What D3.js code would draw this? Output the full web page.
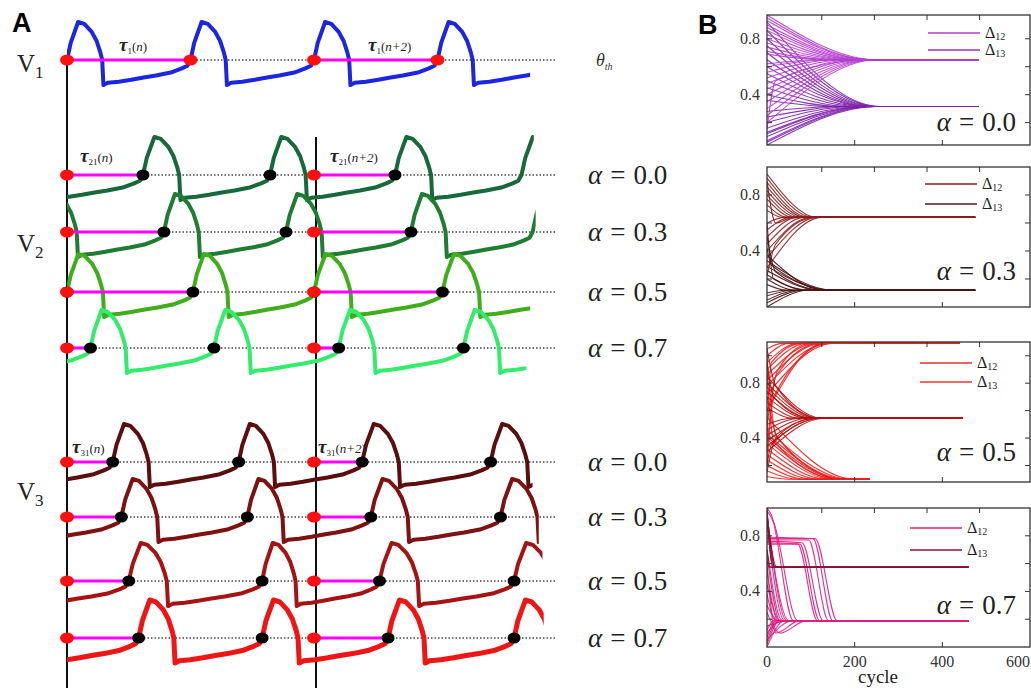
<!DOCTYPE html>
<html>
<head>
<meta charset="utf-8">
<script src="https://cdn.jsdelivr.net/npm/d3@7"></script>
<style>
body { margin: 0; background: #fff; }
svg { display: block; }
text { font-family: "Liberation Serif", "DejaVu Serif", serif; }
</style>
</head>
<body>
<script>
// ---------- panel A data (times in units of one V1 period) ----------
// one spike cycle, phase 0..1, voltage relative to threshold (peak = 1)
const waveTemplate = [[0,0],[0.03,0.45],[0.09,1],[0.14,0.95],[0.2,0.74],[0.24,0.5],[0.27,0.2],
  [0.285,0],[0.295,-0.66],[0.33,-0.6],[0.42,-0.57],[0.52,-0.52],[0.62,-0.46],[0.72,-0.41],[0.84,-0.33],
  [0.93,-0.22],[0.975,-0.15],[1,0]];
const alphaLabels = ["0.0", "0.3", "0.5", "0.7"];
const v1Cross = [0, 1, 2, 3];
const v1End = 3.75;
const v2Cross = [[0.615,1.644,2.656,3.68],[0.785,1.773,2.785,3.77],[0,1.02,2,3.04],[0.19,1.19,2.2,3.21]];
const v2End = [3.78, 3.795, 3.75, 3.72];
const v3Cross = [[0.37,1.39,2.39,3.43],[0.44,1.46,2.46,3.51],[0.5,1.58,2.53,3.62],[0.58,1.58,2.6,3.62]];
const v3End = [3.77, 3.82, 3.85, 3.86];
const refTimes = [0, 2];          // tau(n), tau(n+2)
const dotUntil = 3.66;

// ---------- panel B data: [start, cycle reached]  or  [start, c1, v1, ..., cycle reached] ----------
const p1Final = [0.65, 0.315];
const p1Delta12 = [[0.97,250],[0.95,240],[0.93,235],[0.9,228],[0.88,220],[0.86,212],[0.83,205],[0.8,195],
  [0.77,185],[0.74,170],[0.71,150],[0.6,140],[0.56,160],[0.52,180],[0.48,200],[0.44,215],[0.4,225],
  [0.35,235],[0.3,240],[0.25,245],[0.2,250],[0.62,120],[0.69,130],[0.15,20,0.5,230]];
const p1Delta13 = [[0.04,250],[0.07,240],[0.1,235],[0.13,225],[0.16,215],[0.2,200],[0.24,185],[0.28,160],
  [0.36,150],[0.4,175],[0.45,195],[0.5,210],[0.55,220],[0.6,230],[0.65,235],[0.7,240],[0.75,245],
  [0.8,250],[0.86,255],[0.92,258],[0.12,230],[0.06,245]];
const p2Final = [0.64, 0.12];
const p2Delta12 = [[0.95,115],[0.92,105],[0.89,95],[0.86,88],[0.83,80],[0.8,70],[0.77,60],[0.73,48],
  [0.69,35],[0.6,40],[0.55,55],[0.5,70],[0.45,85],[0.4,100],[0.35,115],[0.28,125],[0.22,20,0.45,110],[0.9,20,0.6,60]];
const p2Delta13 = [[0.0,95],[0.03,85],[0.05,75],[0.08,60],[0.1,40],[0.16,45],[0.2,65],[0.23,90],[0.26,120],
  [0.29,145],[0.33,150],[0.37,130],[0.42,10,0.3,150],[0.5,20,0.25,130],[0.6,15,0.2,100]];
const p3Final = [1.09, 0.545, 0.1];
const p3Top = [[0.95,70],[0.9,90],[0.86,110],[0.82,125],[0.78,140],[0.72,150],[1.05,35],[1.0,50],
  [0.3,20,0.85,120],[0.2,15,0.7,140],[0.5,25,0.9,100],[0.6,130],[0.4,10,0.95,80]];
const p3Mid = [[0.85,125],[0.8,118],[0.77,110],[0.74,100],[0.7,90],[0.66,75],[0.62,60],[0.5,55],[0.46,75],
  [0.42,95],[0.38,110],[0.34,120],[0.3,130],[1.05,20,0.78,120],[0.15,20,0.4,110],[0.95,15,0.7,100],[0.2,10,0.35,125]];
const p3Bottom = [[0.46,190],[0.43,180],[0.41,170],[0.39,160],[0.36,150],[0.32,135],[0.28,120],[0.24,105],
  [0.2,90],[0.16,70],[0.12,50],[1.0,20,0.42,180],[0.9,15,0.38,165],[0.7,25,0.4,175],[0.55,200]];
const p4Final = [0.19, 0.575];
const p4Delta12 = [[0.77,95,0.77,140],[0.78,105,0.78,150],[0.79,110,0.78,160],[0.74,70,0.74,115],
  [0.75,75,0.74,120],[0.76,80,0.75,128],[1.0,10,0.95,60],[0.98,15,0.9,70],[0.96,45],[0.92,50],[0.88,40],
  [0.7,35],[0.66,30],[0.55,25],[0.45,30],[0.38,20],[0.3,25],[0.02,30],[0.04,25],[0.07,20],[0.0,40],
  [0.1,35],[0.12,15],[0.15,50],[0.05,60],[0.6,20,0.1,75],[0.25,30,0.1,90]];
const p4Delta13 = [[1.0,12],[0.98,18],[0.95,22],[0.92,15],[0.7,8],[0.62,5]];
const yTickLabels = [0.8, 0.4];
const cycleTicks = [0, 200, 400, 600];

const W = 1031, H = 690;
const svg = d3.select("body").append("svg").attr("width", W).attr("height", H);
const defs = svg.append("defs");

// ================= panel A =================
const t = d3.scaleLinear().domain([0, 1]).range([67, 190.5]);
const ampPx = 38;

function wavePoints(cross) {
  const n = cross.length;
  const cs = [cross[0] - (cross[1] - cross[0]), ...cross, cross[n - 1] + (cross[n - 1] - cross[n - 2])];
  const pts = [];
  for (let k = 0; k < cs.length - 1; k++) {
    const P = cs[k + 1] - cs[k];
    waveTemplate.forEach((d, i) => {
      if (k > 0 && i === 0) return;
      pts.push([cs[k] + d[0] * P, d[1]]);
    });
  }
  return pts;
}

const v2Y = [175, 232, 292, 348], v3Y = [462, 517, 581, 638];
const v2Colors = ["#17683a", "#1f7d33", "#40ae1c", "#34ec6c"];
const v3Colors = ["#5c0d0d", "#7e1111", "#a51313", "#f01515"];
const rows = [{ y: 60, cross: v1Cross, end: v1End, color: "#1c25e0", w: 4, v1: true }];
v2Cross.forEach((c, i) => rows.push({ y: v2Y[i], cross: c, end: v2End[i], color: v2Colors[i], w: 4 }));
v3Cross.forEach((c, i) => rows.push({ y: v3Y[i], cross: c, end: v3End[i], color: v3Colors[i], w: i === 3 ? 5 : 4 }));

// vertical reference lines
svg.append("line").attr("x1", t(0)).attr("x2", t(0)).attr("y1", 60).attr("y2", 688)
  .attr("stroke", "#111").attr("stroke-width", 2);
svg.append("line").attr("x1", t(2) + 2).attr("x2", t(2) + 2).attr("y1", 137).attr("y2", 688)
  .attr("stroke", "#111").attr("stroke-width", 2);

rows.forEach((r, i) => {
  const y = d3.scaleLinear().domain([0, 1]).range([r.y, r.y - ampPx]);
  const g = svg.append("g");
  // threshold
  g.append("line").attr("x1", t(0)).attr("x2", 555).attr("y1", r.y).attr("y2", r.y)
    .attr("stroke", "#444").attr("stroke-width", 1.4).attr("stroke-dasharray", "1.5,2");
  // waveform
  defs.append("clipPath").attr("id", "clip" + i).append("rect")
    .attr("x", t(0)).attr("y", 0).attr("width", t(r.end) - t(0)).attr("height", H);
  const line = d3.line().x(d => t(d[0])).y(d => y(d[1]));
  g.append("path").datum(wavePoints(r.cross)).attr("d", line)
    .attr("clip-path", "url(#clip" + i + ")")
    .attr("fill", "none").attr("stroke", r.color).attr("stroke-width", r.w)
    .attr("stroke-linejoin", "round").attr("stroke-linecap", "round");
  // tau segments
  refTimes.forEach(ref => {
    const next = r.cross.find(c => c > ref + 0.001);
    g.append("line").attr("x1", t(ref)).attr("x2", t(next)).attr("y1", r.y).attr("y2", r.y)
      .attr("stroke", "#ff00ff").attr("stroke-width", 3.2);
  });
  // own crossings
  if (!r.v1) {
    g.selectAll(".bdot").data(r.cross.filter(c => c >= 0 && c < dotUntil)).enter().append("ellipse")
      .attr("cx", d => t(d)).attr("cy", r.y).attr("rx", 6.5).attr("ry", 5.5).attr("fill", "#000");
  }
  const reds = r.v1 ? r.cross : refTimes;
  g.selectAll(".rdot").data(reds).enter().append("ellipse")
    .attr("cx", d => t(d)).attr("cy", r.y).attr("rx", 7).attr("ry", 5.5).attr("fill", "#ff1010");
});

// labels panel A
svg.append("text").attr("x", 12).attr("y", 32).text("A")
  .style("font-family", "Liberation Sans, Arial, sans-serif").attr("font-weight", "bold").attr("font-size", 27);
[["1", 72], ["2", 252], ["3", 500]].forEach(([s, yb]) => {
  const tx = svg.append("text").attr("x", 17).attr("y", yb).attr("font-size", 25).attr("fill", "#222");
  tx.append("tspan").text("V");
  tx.append("tspan").attr("dy", 6).attr("font-size", 17).text(s);
});
function tauLabel(x, yb, sub, arg) {
  const tx = svg.append("text").attr("x", x).attr("y", yb).attr("fill", "#222");
  tx.append("tspan").attr("font-size", 19).attr("font-weight", "bold").attr("font-style", "italic").text("τ");
  tx.append("tspan").attr("font-size", 9).attr("dy", 3).text(sub);
  tx.append("tspan").attr("font-size", 13).attr("dy", -3).text("(");
  tx.append("tspan").attr("font-size", 13).attr("font-style", "italic").text(arg);
  tx.append("tspan").attr("font-size", 13).text(")");
}
tauLabel(119, 51, "1", "n");
tauLabel(368, 51, "1", "n+2");
tauLabel(80, 162, "21", "n");
tauLabel(330, 162, "21", "n+2");
tauLabel(72, 453, "31", "n");
tauLabel(318, 453, "31", "n+2");

const thTx = svg.append("text").attr("x", 596).attr("y", 66).attr("font-size", 18).attr("font-style", "italic").attr("fill", "#333");
thTx.append("tspan").text("θ");
thTx.append("tspan").attr("font-size", 10).attr("dy", 4).text("th");

function alphaText(x, yb, val, size, anchor) {
  const tx = svg.append("text").attr("x", x).attr("y", yb).attr("font-size", size).attr("fill", "#222")
    .attr("text-anchor", anchor || "start");
  tx.append("tspan").attr("font-style", "italic").text("α");
  tx.append("tspan").attr("dx", size * 0.3).text("=");
  tx.append("tspan").attr("dx", size * 0.3).text(val);
}
alphaLabels.forEach((a, i) => alphaText(588, v2Y[i] + 9, a, 27));
alphaLabels.forEach((a, i) => alphaText(588, v3Y[i] + 9, a, 27));

// ================= panel B =================
const cx = d3.scaleLinear().domain([0, 600]).range([767, 1030]);

function trajPoints(tr, final, end) {
  const pts = [[0, tr[0]]];
  for (let i = 1; i < tr.length - 1; i += 2) pts.push([tr[i], tr[i + 1]]);
  pts.push([tr[tr.length - 1], final]);
  pts.push([end, final]);
  return pts;
}

const topTicks = [125, 245, 365, 485];
const panels = [
  { top: 15, bottom: 145, domain: [0.04, 0.97], alpha: "0.0", alphaY: 131, legY: [33, 50],
    legColors: ["#b33dcc", "#9a33c2"], legX: 928,
    groups: [{ data: p1Delta13, final: p1Final[1], end: 482, color: "#7d22aa" },
             { data: p1Delta12, final: p1Final[0], end: 482, color: "#b53ecf" }] },
  { top: 167, bottom: 307, domain: [0, 1.0], alpha: "0.3", alphaY: 280, legY: [184, 204],
    legColors: ["#8b1c1c", "#5a1a1a"], legX: 925,
    groups: [{ data: p2Delta12, final: p2Final[0], end: 475, color: "#8e1d1d" },
             { data: p2Delta13, final: p2Final[1], end: 475, color: "#4d1414" }] },
  { top: 342, bottom: 482, domain: [0.08, 1.1], alpha: "0.5", alphaY: 461, legY: [363, 382],
    legColors: ["#e33030", "#ea3838"], legX: 920,
    groups: [{ data: p3Top, final: p3Final[0], end: 440, color: "#f01c1c" },
             { data: p3Bottom, final: p3Final[2], end: 235, color: "#f01c1c" },
             { data: p3Mid, final: p3Final[1], end: 447, color: "#b31010" }] },
  { top: 508, bottom: 647, domain: [0, 1.0], alpha: "0.7", alphaY: 614, legY: [528, 550],
    legColors: ["#d9207f", "#8e0f3a"], legX: 910,
    groups: [{ data: p4Delta12, final: p4Final[0], end: 460, color: "#dc1f80" },
             { data: p4Delta13, final: p4Final[1], end: 460, color: "#8e0f3a" }] }
];

panels.forEach((p, pi) => {
  const y = d3.scaleLinear().domain(p.domain).range([p.bottom, p.top]);
  const g = svg.append("g");
  defs.append("clipPath").attr("id", "pclip" + pi).append("rect")
    .attr("x", cx(0)).attr("y", p.top).attr("width", cx(600) - cx(0)).attr("height", p.bottom - p.top);
  const line = d3.line().x(d => cx(d[0])).y(d => y(d[1])).curve(d3.curveMonotoneX);
  const lg = g.append("g").attr("clip-path", "url(#pclip" + pi + ")");
  p.groups.forEach(gr => {
    lg.selectAll(null).data(gr.data).enter().append("path")
      .attr("d", d => line(trajPoints(d, gr.final, gr.end)))
      .attr("fill", "none").attr("stroke", gr.color).attr("stroke-width", 1.1).attr("stroke-opacity", 0.9);
  });
  // frame
  g.append("rect").attr("x", cx(0)).attr("y", p.top).attr("width", cx(600) - cx(0)).attr("height", p.bottom - p.top)
    .attr("fill", "none").attr("stroke", "#333").attr("stroke-width", 1.3);
  // ticks
  const yt = [0.2, 0.4, 0.6, 0.8, 1.0].filter(v => v > p.domain[0] && v < p.domain[1]);
  yt.forEach(v => {
    g.append("line").attr("x1", cx(600)).attr("x2", cx(600) - 5).attr("y1", y(v)).attr("y2", y(v)).attr("stroke", "#333");
    g.append("line").attr("x1", cx(0)).attr("x2", cx(0) + 5).attr("y1", y(v)).attr("y2", y(v)).attr("stroke", "#333");
  });
  topTicks.forEach(c => g.append("line").attr("x1", cx(c)).attr("x2", cx(c)).attr("y1", p.top).attr("y2", p.top + 5).attr("stroke", "#333"));
  [200, 400].forEach(c => g.append("line").attr("x1", cx(c)).attr("x2", cx(c)).attr("y1", p.bottom).attr("y2", p.bottom - 5).attr("stroke", "#333"));
  yTickLabels.forEach(v => g.append("text").attr("x", 760).attr("y", y(v) + 5).attr("text-anchor", "end")
    .attr("font-size", 16).attr("fill", "#333").text(v.toFixed(1)));
  // legend
  ["12", "13"].forEach((s, k) => {
    g.append("line").attr("x1", p.legX).attr("x2", p.legX + 52).attr("y1", p.legY[k]).attr("y2", p.legY[k])
      .attr("stroke", p.legColors[k]).attr("stroke-width", 1.4);
    const tx = g.append("text").attr("x", p.legX + 57).attr("y", p.legY[k] + 5).attr("font-size", 16).attr("fill", "#222");
    tx.append("tspan").text("Δ");
    tx.append("tspan").attr("font-size", 10).attr("dy", 2).text(s);
  });
});
panels.forEach(p => alphaText(1016, p.alphaY, p.alpha, 27, "end"));

cycleTicks.forEach(c => svg.append("text").attr("x", Math.min(cx(c), 1018)).attr("y", 667)
  .attr("text-anchor", "middle").attr("font-size", 16).attr("fill", "#333").text(c));
svg.append("text").attr("x", 878).attr("y", 683).attr("text-anchor", "middle").attr("font-size", 19)
  .attr("fill", "#222").text("cycle");
svg.append("text").attr("x", 698).attr("y", 34).text("B")
  .style("font-family", "Liberation Sans, Arial, sans-serif").attr("font-weight", "bold").attr("font-size", 27);
</script>
</body>
</html>
